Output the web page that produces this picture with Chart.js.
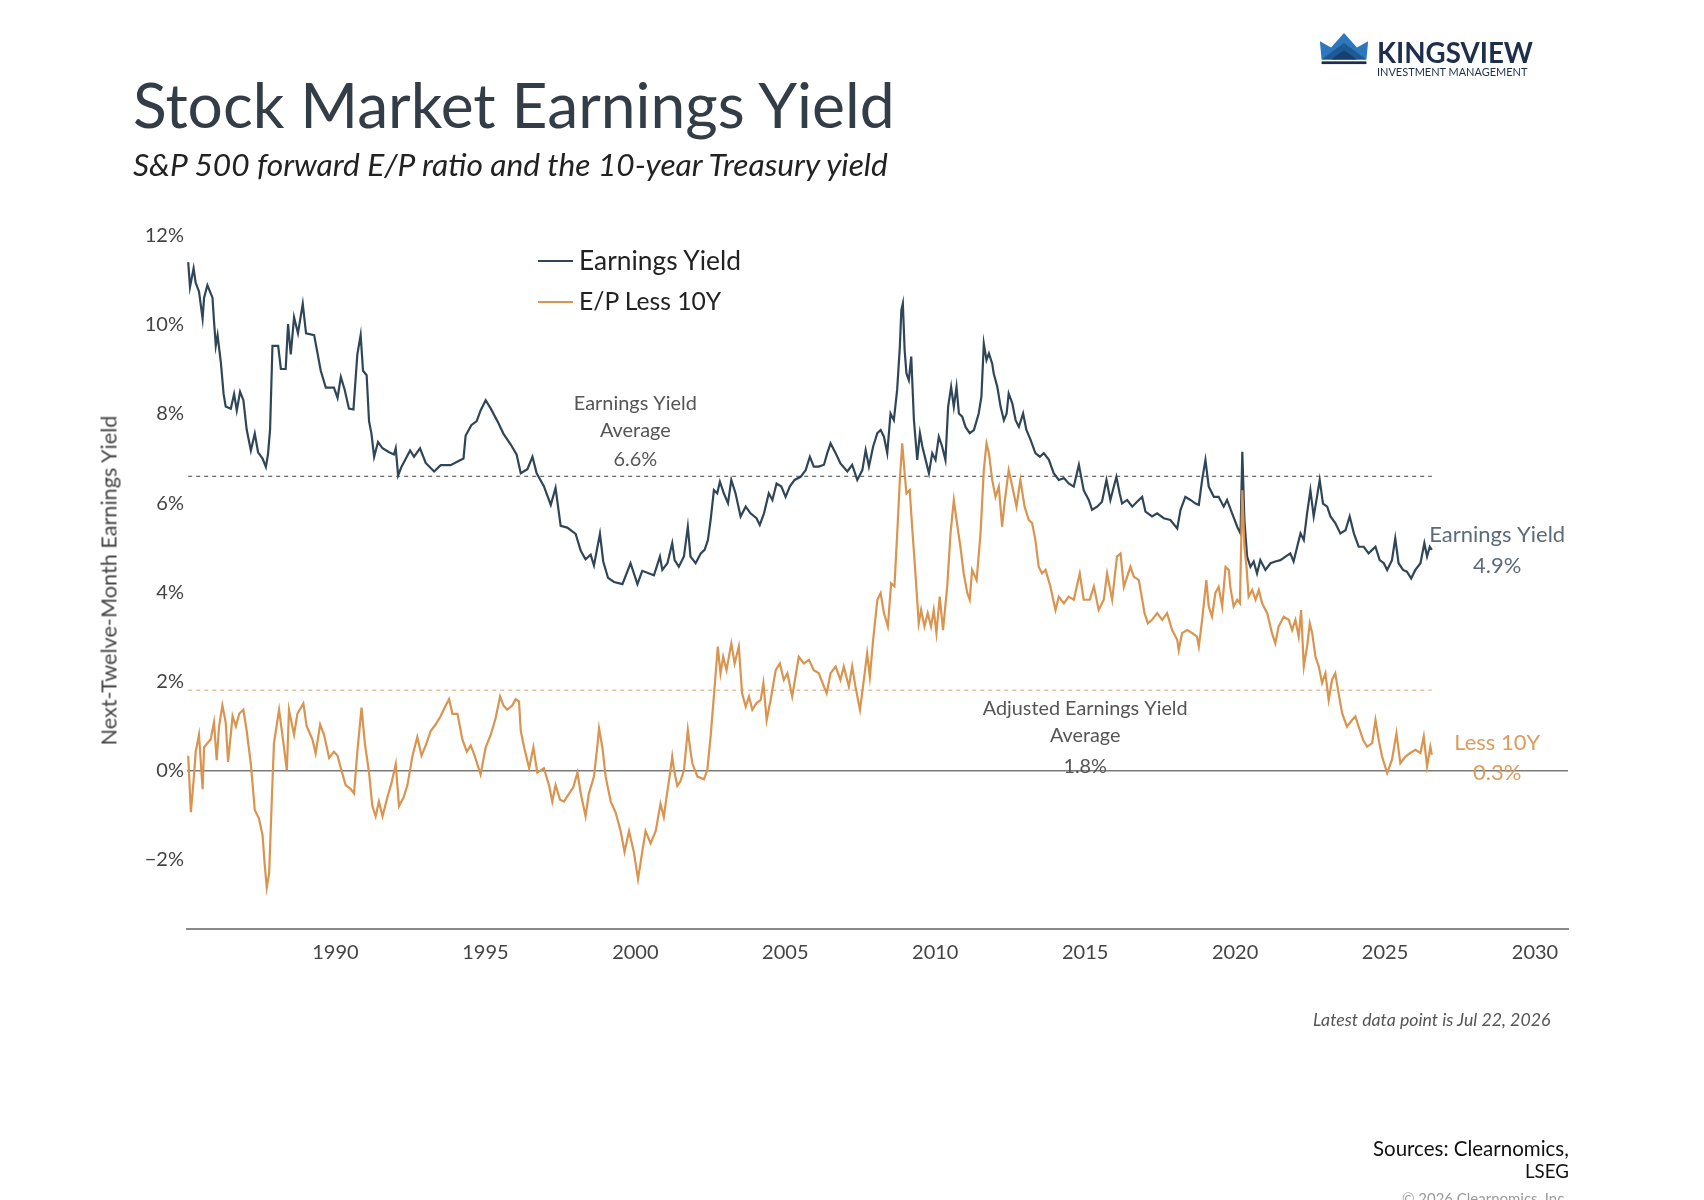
<!DOCTYPE html>
<html><head><meta charset="utf-8">
<script src="https://cdn.jsdelivr.net/npm/chart.js@4.4.1/dist/chart.umd.min.js"></script>
<style>
html,body{margin:0;padding:0;background:#fff;}
#wrap{position:relative;width:1704px;height:1200px;overflow:hidden;background:#fff;}
#c{position:absolute;left:0;top:0;}
.t{position:absolute;white-space:nowrap;line-height:1;}
.lg{position:absolute;height:2px;}
</style></head><body>
<div id="wrap">
<canvas id="c" width="1704" height="1200"></canvas>
<div class="t" id="title">Stock Market Earnings Yield</div>
<div class="t" id="subtitle">S&amp;P 500 forward E/P ratio and the 10-year Treasury yield</div>
<div class="lg" style="left:538px;top:260px;width:35px;background:#2f4558"></div>
<div class="lg" style="left:538px;top:301px;width:35px;background:#d9944f"></div>
<div class="t" id="leg1">Earnings Yield</div>
<div class="t" id="leg2">E/P Less 10Y</div>
<div class="t" id="ytitle">Next-Twelve-Month Earnings Yield</div>
<div class="t" id="latest">Latest data point is Jul 22, 2026</div>
<div class="t" id="src1">Sources: Clearnomics,</div>
<div class="t" id="src2">LSEG</div>
<div class="t" id="copy">© 2026 Clearnomics, Inc.</div>
<svg style="position:absolute;left:1319px;top:32px" width="50" height="33" viewBox="0 0 58 36" preserveAspectRatio="none">
  <polygon points="1,10 14,17 29,1 44,17 57,10 55,30 3,30" fill="#2b78bf"/>
  <polygon points="3,30 29,12 55,30" fill="#1d5a94"/>
  <polygon points="14,30 29,20 44,30" fill="#17406b"/>
  <rect x="3" y="32" width="52" height="3" fill="#1c2f4c"/>
</svg>
<div class="t" id="logo1">KINGSVIEW</div>
<div class="t" id="logo2">INVESTMENT MANAGEMENT</div>
</div>
<script>
// ---------- DATA ----------
const eyYears = [1985.09,1985.15,1985.27,1985.34,1985.45,1985.57,1985.62,1985.73,1985.90,1985.95,1986.01,1986.07,1986.18,1986.27,1986.34,1986.51,1986.62,1986.71,1986.82,1986.93,1987.04,1987.18,1987.31,1987.42,1987.57,1987.68,1987.75,1987.82,1987.90,1988.09,1988.18,1988.34,1988.42,1988.51,1988.62,1988.75,1988.91,1989.02,1989.29,1989.51,1989.68,1989.95,1990.07,1990.18,1990.31,1990.45,1990.60,1990.73,1990.84,1990.92,1991.04,1991.12,1991.20,1991.29,1991.42,1991.57,1991.79,1991.95,1992.01,1992.09,1992.20,1992.49,1992.62,1992.82,1993.01,1993.29,1993.51,1993.84,1994.12,1994.27,1994.34,1994.53,1994.71,1994.84,1995.01,1995.18,1995.40,1995.60,1995.84,1996.04,1996.18,1996.40,1996.57,1996.71,1996.95,1997.18,1997.34,1997.51,1997.73,1998.01,1998.18,1998.34,1998.51,1998.62,1998.82,1998.93,1999.09,1999.29,1999.57,1999.84,2000.07,2000.23,2000.62,2000.82,2000.90,2001.07,2001.23,2001.31,2001.45,2001.62,2001.75,2001.84,2002.01,2002.18,2002.31,2002.42,2002.51,2002.62,2002.73,2002.82,2002.95,2003.09,2003.20,2003.34,2003.51,2003.68,2003.84,2004.04,2004.15,2004.29,2004.45,2004.57,2004.71,2004.87,2005.01,2005.15,2005.31,2005.51,2005.68,2005.82,2005.95,2006.12,2006.29,2006.40,2006.51,2006.68,2006.84,2007.07,2007.23,2007.40,2007.57,2007.68,2007.79,2007.93,2008.07,2008.18,2008.29,2008.40,2008.51,2008.62,2008.73,2008.82,2008.87,2008.92,2008.98,2009.04,2009.12,2009.20,2009.29,2009.40,2009.49,2009.57,2009.68,2009.79,2009.90,2010.01,2010.12,2010.23,2010.34,2010.43,2010.53,2010.62,2010.71,2010.79,2010.90,2011.01,2011.15,2011.29,2011.45,2011.54,2011.62,2011.71,2011.79,2011.90,2011.95,2012.07,2012.18,2012.29,2012.38,2012.45,2012.57,2012.68,2012.79,2012.93,2013.04,2013.18,2013.34,2013.49,2013.62,2013.79,2013.95,2014.12,2014.29,2014.45,2014.62,2014.79,2014.95,2015.12,2015.23,2015.40,2015.56,2015.71,2015.84,2016.04,2016.15,2016.23,2016.40,2016.57,2016.73,2016.90,2017.01,2017.23,2017.40,2017.62,2017.84,2018.07,2018.18,2018.34,2018.51,2018.68,2018.79,2018.90,2019.01,2019.12,2019.29,2019.45,2019.62,2019.73,2019.90,2020.07,2020.18,2020.24,2020.31,2020.40,2020.51,2020.62,2020.73,2020.84,2021.01,2021.18,2021.34,2021.51,2021.68,2021.84,2021.95,2022.07,2022.18,2022.29,2022.40,2022.51,2022.62,2022.73,2022.82,2022.93,2023.07,2023.18,2023.34,2023.51,2023.68,2023.82,2023.96,2024.12,2024.29,2024.45,2024.57,2024.68,2024.82,2024.96,2025.07,2025.23,2025.34,2025.45,2025.60,2025.73,2025.87,2026.01,2026.18,2026.31,2026.40,2026.49,2026.56];
const eyValues = [11.41,10.85,11.27,10.94,10.75,10.14,10.61,10.89,10.61,10.09,9.53,9.77,9.15,8.45,8.17,8.12,8.45,8.08,8.50,8.31,7.65,7.18,7.56,7.14,7.00,6.81,7.09,7.65,9.53,9.53,9.01,9.01,10.02,9.34,10.17,9.81,10.47,9.81,9.77,8.97,8.59,8.59,8.36,8.83,8.54,8.12,8.10,9.34,9.77,8.97,8.87,7.84,7.56,7.04,7.37,7.23,7.14,7.09,7.23,6.62,6.81,7.18,7.04,7.23,6.90,6.71,6.85,6.85,6.95,7.00,7.51,7.75,7.84,8.08,8.31,8.12,7.84,7.56,7.32,7.09,6.67,6.76,7.04,6.67,6.38,5.96,6.34,5.49,5.45,5.31,4.93,4.74,4.84,4.60,5.31,4.69,4.32,4.23,4.18,4.65,4.18,4.48,4.38,4.80,4.50,4.65,5.10,4.72,4.57,4.80,5.47,4.80,4.65,4.87,4.95,5.17,5.62,6.29,6.22,6.48,6.22,6.00,6.52,6.22,5.70,5.92,5.77,5.66,5.51,5.77,6.22,6.07,6.44,6.37,6.14,6.37,6.52,6.59,6.74,7.04,6.82,6.82,6.86,7.12,7.34,7.12,6.89,6.71,6.86,6.52,6.74,7.19,6.82,7.27,7.57,7.64,7.49,7.12,8.01,7.86,8.54,9.51,10.33,10.48,9.43,8.91,8.76,9.29,7.86,6.97,7.57,7.27,6.97,6.67,7.12,6.97,7.49,7.27,6.97,8.16,8.61,8.16,8.61,8.01,7.94,7.71,7.57,7.64,8.01,8.39,9.58,9.21,9.36,9.13,8.91,8.61,8.16,7.86,8.01,8.46,8.24,7.86,7.71,8.01,7.64,7.42,7.12,7.04,7.12,6.97,6.67,6.52,6.56,6.44,6.37,6.86,6.29,6.07,5.85,5.92,6.03,6.52,6.07,6.59,6.22,5.99,6.07,5.92,6.03,6.14,5.81,5.70,5.77,5.66,5.62,5.43,5.85,6.14,6.07,5.99,5.96,6.52,6.97,6.37,6.14,6.14,5.92,6.07,5.77,5.47,5.32,7.15,5.62,4.80,4.57,4.69,4.42,4.72,4.50,4.65,4.69,4.72,4.80,4.87,4.69,5.02,5.32,5.17,5.77,6.29,5.70,6.14,6.52,5.99,5.92,5.70,5.55,5.32,5.39,5.70,5.32,5.02,5.02,4.87,4.95,5.02,4.72,4.65,4.50,4.72,5.21,4.65,4.50,4.46,4.31,4.50,4.65,5.10,4.80,5.02,4.95];
const epYears = [1985.09,1985.18,1985.27,1985.34,1985.45,1985.57,1985.62,1985.73,1985.84,1985.95,1986.04,1986.12,1986.23,1986.34,1986.42,1986.57,1986.68,1986.79,1986.93,1987.04,1987.18,1987.31,1987.45,1987.57,1987.64,1987.71,1987.79,1987.87,1987.95,1988.12,1988.23,1988.38,1988.45,1988.62,1988.73,1988.93,1989.04,1989.23,1989.34,1989.49,1989.62,1989.79,1989.95,1990.07,1990.18,1990.34,1990.51,1990.62,1990.73,1990.87,1990.98,1991.12,1991.23,1991.34,1991.45,1991.57,1991.73,1991.87,1992.01,1992.12,1992.27,1992.40,1992.57,1992.73,1992.87,1993.01,1993.18,1993.34,1993.51,1993.68,1993.79,1993.90,1994.07,1994.23,1994.38,1994.51,1994.64,1994.84,1995.01,1995.18,1995.34,1995.49,1995.60,1995.73,1995.90,1996.01,1996.12,1996.18,1996.29,1996.46,1996.60,1996.73,1996.95,1997.12,1997.23,1997.34,1997.49,1997.62,1997.79,1997.93,1998.07,1998.18,1998.34,1998.45,1998.62,1998.73,1998.79,1998.90,1999.01,1999.18,1999.34,1999.51,1999.64,1999.79,1999.95,2000.09,2000.23,2000.34,2000.51,2000.68,2000.84,2000.95,2001.05,2001.15,2001.23,2001.29,2001.40,2001.50,2001.62,2001.75,2001.82,2001.90,2002.07,2002.29,2002.40,2002.51,2002.60,2002.68,2002.75,2002.84,2002.93,2003.04,2003.20,2003.31,2003.45,2003.56,2003.68,2003.79,2003.90,2004.04,2004.18,2004.27,2004.38,2004.51,2004.68,2004.82,2004.95,2005.07,2005.23,2005.45,2005.62,2005.79,2005.95,2006.12,2006.29,2006.38,2006.51,2006.68,2006.84,2006.95,2007.12,2007.23,2007.34,2007.49,2007.62,2007.73,2007.82,2007.93,2008.07,2008.18,2008.29,2008.42,2008.53,2008.64,2008.75,2008.82,2008.90,2008.98,2009.04,2009.15,2009.23,2009.34,2009.45,2009.53,2009.64,2009.75,2009.86,2009.95,2010.04,2010.15,2010.26,2010.40,2010.51,2010.62,2010.71,2010.84,2010.95,2011.07,2011.15,2011.23,2011.38,2011.51,2011.62,2011.71,2011.79,2011.90,2012.01,2012.12,2012.23,2012.31,2012.45,2012.57,2012.71,2012.84,2012.98,2013.12,2013.23,2013.34,2013.45,2013.56,2013.68,2013.84,2014.01,2014.12,2014.29,2014.45,2014.62,2014.82,2014.95,2015.15,2015.29,2015.45,2015.62,2015.73,2015.90,2016.06,2016.18,2016.29,2016.40,2016.51,2016.62,2016.79,2016.98,2017.09,2017.23,2017.40,2017.57,2017.73,2017.90,2018.07,2018.12,2018.23,2018.40,2018.57,2018.73,2018.79,2018.90,2019.04,2019.12,2019.23,2019.34,2019.45,2019.57,2019.68,2019.79,2019.84,2019.95,2020.07,2020.16,2020.24,2020.31,2020.38,2020.45,2020.57,2020.68,2020.79,2020.90,2021.07,2021.23,2021.34,2021.45,2021.62,2021.79,2021.90,2022.01,2022.12,2022.20,2022.29,2022.40,2022.49,2022.57,2022.68,2022.79,2022.90,2023.01,2023.12,2023.23,2023.34,2023.45,2023.57,2023.73,2023.90,2024.01,2024.12,2024.27,2024.40,2024.57,2024.68,2024.79,2024.90,2025.07,2025.23,2025.38,2025.51,2025.68,2025.84,2026.01,2026.18,2026.29,2026.40,2026.51,2026.56];
const epValues = [0.33,-0.94,-0.23,0.42,0.80,-0.42,0.52,0.61,0.70,1.08,0.23,0.99,1.46,1.08,0.19,1.22,0.99,1.27,1.36,0.89,0.14,-0.89,-1.08,-1.46,-2.11,-2.63,-2.30,-0.80,0.61,1.36,0.80,0.00,1.36,0.80,1.27,1.50,0.99,0.70,0.38,1.03,0.80,0.28,0.42,0.33,0.05,-0.33,-0.42,-0.52,0.42,1.41,0.61,-0.05,-0.80,-1.03,-0.70,-1.03,-0.61,-0.28,0.14,-0.80,-0.61,-0.33,0.33,0.75,0.33,0.56,0.89,1.03,1.22,1.46,1.60,1.27,1.27,0.70,0.42,0.56,0.33,-0.09,0.52,0.80,1.17,1.66,1.46,1.36,1.46,1.60,1.55,0.89,0.52,0.05,0.52,-0.05,0.05,-0.33,-0.70,-0.33,-0.66,-0.70,-0.52,-0.38,-0.05,-0.52,-1.03,-0.52,-0.14,0.52,0.94,0.52,-0.14,-0.70,-0.94,-1.36,-1.83,-1.36,-1.83,-2.44,-1.83,-1.36,-1.64,-1.36,-0.75,-1.05,-0.55,-0.10,0.31,0.01,-0.35,-0.25,0.00,0.91,0.53,0.16,-0.14,-0.20,0.01,0.76,1.51,2.18,2.78,2.18,2.55,2.25,2.85,2.40,2.78,1.73,1.43,1.66,1.36,1.51,1.58,1.96,1.13,1.58,2.25,2.40,2.03,2.18,1.66,2.55,2.40,2.48,2.25,2.18,1.88,1.73,2.18,2.33,2.03,2.33,1.88,2.33,1.88,1.36,2.03,2.63,2.10,2.93,3.83,3.98,3.53,3.23,4.20,4.13,5.55,6.52,7.34,6.67,6.22,6.29,5.47,4.42,3.30,3.60,3.23,3.53,3.23,3.60,3.08,3.90,3.15,4.13,5.32,6.07,5.62,5.02,4.42,3.98,3.83,4.50,4.27,5.32,6.74,7.34,7.12,6.52,6.14,6.37,5.47,6.00,6.74,6.37,5.92,6.52,5.92,5.62,5.55,5.17,4.57,4.42,4.50,4.13,3.60,3.90,3.75,3.90,3.83,4.42,3.83,3.83,4.13,3.60,3.83,4.42,3.83,4.80,4.87,4.12,4.35,4.57,4.35,4.27,3.53,3.30,3.38,3.53,3.38,3.53,3.15,2.93,2.70,3.08,3.15,3.08,3.00,2.78,3.38,4.27,3.68,3.45,3.98,4.12,3.68,4.57,4.50,4.12,3.68,3.83,3.75,6.29,5.02,4.57,3.90,4.05,3.83,4.05,3.75,3.53,3.08,2.85,3.23,3.45,3.38,3.15,3.38,3.00,3.60,2.33,2.78,3.30,3.08,2.55,2.33,1.96,2.18,1.58,2.03,2.18,1.73,1.28,0.98,1.13,1.21,0.98,0.68,0.53,0.61,1.13,0.68,0.31,-0.06,0.24,0.83,0.16,0.31,0.39,0.46,0.39,0.76,0.09,0.53,0.35];
const averageValues = [6.6, 1.8];           // Earnings Yield average, Adjusted average
const averageSpan = [1985.09, 2026.56];     // first and latest data point
const xTickValues = [1990, 1995, 2000, 2005, 2010, 2015, 2020, 2025, 2030];
const yTickValues = [-2, 0, 2, 4, 6, 8, 10, 12];
const latestLabels = ['4.9%', '0.3%'];

// ---------- TEXT PLACEMENT ----------
const FAM = "Lato, 'Open Sans', sans-serif";
const mctx = document.createElement('canvas').getContext('2d');
function place(id, o) {
  const el = document.getElementById(id);
  const st = o.style || '';
  mctx.font = st + ' 100px ' + FAM;
  const m = mctx.measureText(el.textContent);
  const fs = 100 * o.w / m.width;
  const A = m.fontBoundingBoxAscent / 100 * fs, D = m.fontBoundingBoxDescent / 100 * fs;
  el.style.font = st + ' ' + fs + 'px ' + FAM;
  el.style.lineHeight = fs + 'px';
  el.style.color = o.color;
  const top = o.base - ((fs - (A + D)) / 2 + A);
  el.style.top = top + 'px';
  if (o.left != null) el.style.left = o.left + 'px';
  else if (o.right != null) el.style.left = (o.right - o.w) + 'px';
  else el.style.left = (o.cx - o.w / 2) + 'px';
  return fs;
}
place('title', {left: 133, w: 764, base: 128, color: '#333d47'});
place('subtitle', {left: 133, w: 760, base: 177, color: '#222', style: 'italic'});
place('leg1', {left: 579, w: 163, base: 270, color: '#222'});
place('leg2', {left: 579, w: 143, base: 311, color: '#222'});
place('latest', {right: 1551, w: 238, base: 1027, color: '#555', style: 'italic'});
place('src1', {right: 1569, w: 196, base: 1156, color: '#111'});
place('src2', {right: 1569, w: 44, base: 1179, color: '#111'});
place('copy', {right: 1568, w: 166, base: 1204, color: '#9a9a9a'});
place('logo1', {left: 1377, w: 156, base: 64, color: '#1e2f4d', style: 'bold'});
place('logo2', {left: 1377, w: 151, base: 76, color: '#1e2f4d'});
(function(){
  const el = document.getElementById('ytitle');
  const fs = place('ytitle', {cx: 111, w: 331, base: 583, color: '#444'});
  el.style.transformOrigin = '165.5px ' + (fs * 0.6) + 'px';
  el.style.top = (583 - fs * 0.6 - fs*0.12) + 'px';
  el.style.transform = 'rotate(-90deg)';
})();

// ---------- CHART ----------
const toXY = (xs, ys) => xs.map((x, i) => ({x: x, y: ys[i]}));
function fitSize(ctx, text, w, style) {
  ctx.font = (style || '') + ' 100px ' + FAM;
  return 100 * w / ctx.measureText(text).width;
}
const annot = {
  id: 'annot',
  afterDatasetsDraw(chart) {
    const {ctx, scales: {x, y}} = chart;
    ctx.save();
    ctx.textAlign = 'center';
    ctx.textBaseline = 'alphabetic';
    let fs = fitSize(ctx, 'Earnings Yield', 123);
    ctx.font = fs + 'px ' + FAM; ctx.fillStyle = '#555';
    let cx = x.getPixelForValue(2000.0);
    ctx.fillText('Earnings Yield', cx, y.getPixelForValue(8.09));
    ctx.fillText('Average', cx, y.getPixelForValue(7.48));
    ctx.fillText(averageValues[0].toFixed(1) + '%', cx, y.getPixelForValue(6.83));
    fs = fitSize(ctx, 'Adjusted Earnings Yield', 205);
    ctx.font = fs + 'px ' + FAM;
    cx = x.getPixelForValue(2015.0);
    ctx.fillText('Adjusted Earnings Yield', cx, y.getPixelForValue(1.25));
    ctx.fillText('Average', cx, y.getPixelForValue(0.64));
    ctx.fillText(averageValues[1].toFixed(1) + '%', cx, y.getPixelForValue(-0.05));
    fs = fitSize(ctx, 'Earnings Yield', 136);
    ctx.font = fs + 'px ' + FAM;
    cx = x.getPixelForValue(2028.74);
    ctx.fillStyle = '#5b6b7b';
    ctx.fillText('Earnings Yield', cx, y.getPixelForValue(5.12));
    ctx.fillText(latestLabels[0], cx, y.getPixelForValue(4.43));
    ctx.fillStyle = '#dc9c5e';
    ctx.fillText('Less 10Y', cx, y.getPixelForValue(0.46));
    ctx.fillText(latestLabels[1], cx, y.getPixelForValue(-0.21));
    ctx.restore();
  }
};

new Chart(document.getElementById('c'), {
  type: 'line',
  data: {
    datasets: [
      {label: 'Earnings Yield', data: toXY(eyYears, eyValues), borderColor: '#2f4558', borderWidth: 2.2, order: 2},
      {label: 'E/P Less 10Y', data: toXY(epYears, epValues), borderColor: '#d9944f', borderWidth: 2.2, order: 1},
      {label: 'EY avg', data: toXY(averageSpan, [averageValues[0], averageValues[0]]), borderColor: '#6f6f6f', borderWidth: 1.3, borderDash: [4, 4], order: 5},
      {label: 'Adj avg', data: toXY(averageSpan, [averageValues[1], averageValues[1]]), borderColor: '#e3b78e', borderWidth: 1.3, borderDash: [4, 4], order: 5}
    ]
  },
  options: {
    responsive: false,
    animation: false,
    devicePixelRatio: 1,
    elements: {point: {radius: 0, hoverRadius: 0}, line: {tension: 0}},
    layout: {padding: {left: 0, right: 136, top: 213.5, bottom: 211}},
    plugins: {legend: {display: false}, tooltip: {enabled: false}},
    scales: {
      x: {
        type: 'linear', min: 1985.05, max: 2031.1,
        afterBuildTicks: s => { s.ticks = xTickValues.map(v => ({value: v})); },
        afterFit: s => { s.height = 60; },
        grid: {display: false, drawTicks: false},
        border: {display: true, color: '#8a8a8a', width: 2},
        ticks: {font: {family: FAM, size: 20}, color: '#444', padding: 12, maxRotation: 0, callback: v => String(v)}
      },
      y: {
        min: -3.56, max: 12.5,
        afterBuildTicks: s => { s.ticks = yTickValues.map(v => ({value: v})); },
        afterFit: s => { s.width = 187; },
        grid: {drawTicks: false, lineWidth: 1.5, color: c => (c.tick && c.tick.value === 0) ? '#7a7a7a' : 'rgba(0,0,0,0)'},
        border: {display: false},
        ticks: {font: {family: FAM, size: 20}, color: '#444', padding: 3,
          callback: v => (v < 0 ? '\u2212' + Math.abs(v) : v) + '%'}
      }
    }
  },
  plugins: [annot]
});
</script>
</body></html>
